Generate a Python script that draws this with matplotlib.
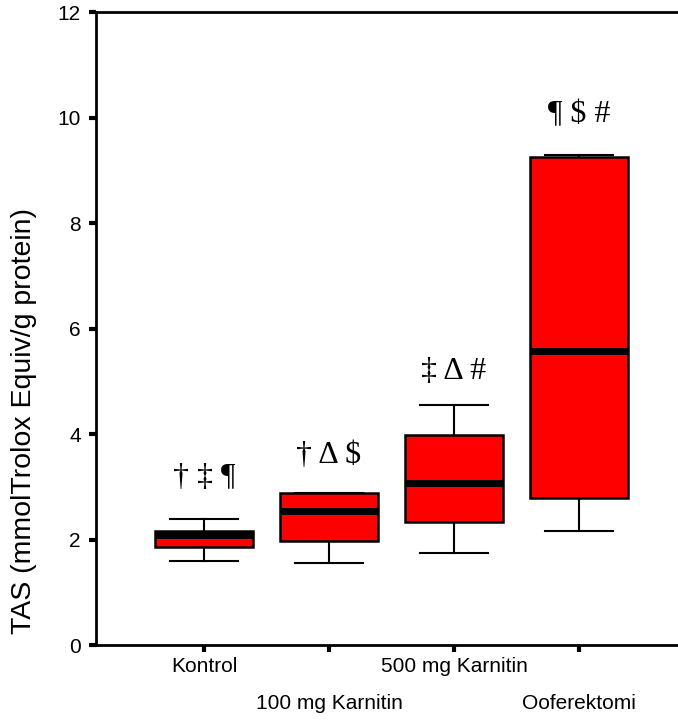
import numpy as np
import matplotlib
matplotlib.use("Agg")
import matplotlib.pyplot as plt

groups = ["Kontrol", "100 mg Karnitin", "500 mg Karnitin", "Ooferektomi"]
whisker_low = [1.59, 1.55, 1.74, 2.16]
box_low = [1.86, 1.97, 2.33, 2.79]
medians = [2.08, 2.54, 3.07, 5.57]
box_high = [2.16, 2.88, 3.98, 9.25]
whisker_high = [2.39, 2.88, 4.55, 9.29]
marks = ["† ‡ ¶", "† Δ $", "‡ Δ #", "¶ $ #"]
mark_y = [3.17, 3.60, 5.18, 10.05]

yticks = [0, 2, 4, 6, 8, 10, 12]

stats = []
for i in range(len(groups)):
    stats.append({"whislo": whisker_low[i], "q1": box_low[i], "med": medians[i],
                  "q3": box_high[i], "whishi": whisker_high[i], "fliers": []})

fig = plt.figure(figsize=(6.78, 7.2), dpi=100)
ax = fig.add_axes([0.1416, 0.104, 0.86, 0.879])

pos = np.arange(1, len(groups) + 1)
ax.bxp(stats, positions=pos, widths=0.79, patch_artist=True, showfliers=False,
       boxprops=dict(facecolor="#ff0000", edgecolor="black", linewidth=1.8),
       medianprops=dict(color="black", linewidth=5, solid_capstyle="butt"),
       whiskerprops=dict(color="black", linewidth=1.5),
       capprops=dict(color="black", linewidth=1.5), capwidths=0.54)

for x, y, s in zip(pos, mark_y, marks):
    ax.text(x, y, s, ha="center", va="center", fontsize=23,
            family=["Liberation Serif", "DejaVu Serif"])

ax.set_xlim(0.136, 4.8)
ax.set_ylim(0, 12)
ax.set_yticks(yticks)
ax.set_yticklabels([str(t) for t in yticks], fontsize=15, family="Liberation Sans")
ax.set_xticks(pos)
ax.set_xticklabels([])
for i, (x, g) in enumerate(zip(pos, groups)):
    yoff = -0.034 if i % 2 == 0 else -0.092
    ax.text(x, yoff, g, transform=ax.get_xaxis_transform(), ha="center", va="center",
            fontsize=15, family="Liberation Sans")

ax.set_ylabel("TAS (mmolTrolox Equiv/g protein)", fontsize=20.5, family="Liberation Sans")
# label sits lower than the axis middle in the original
ax.yaxis.set_label_coords(-0.102, 0.354)
ax.tick_params(axis="both", direction="out", length=5, width=3, pad=6)
for side in ["left", "bottom", "top", "right"]:
    ax.spines[side].set_linewidth(2)

fig.savefig("out.png", dpi=100)
